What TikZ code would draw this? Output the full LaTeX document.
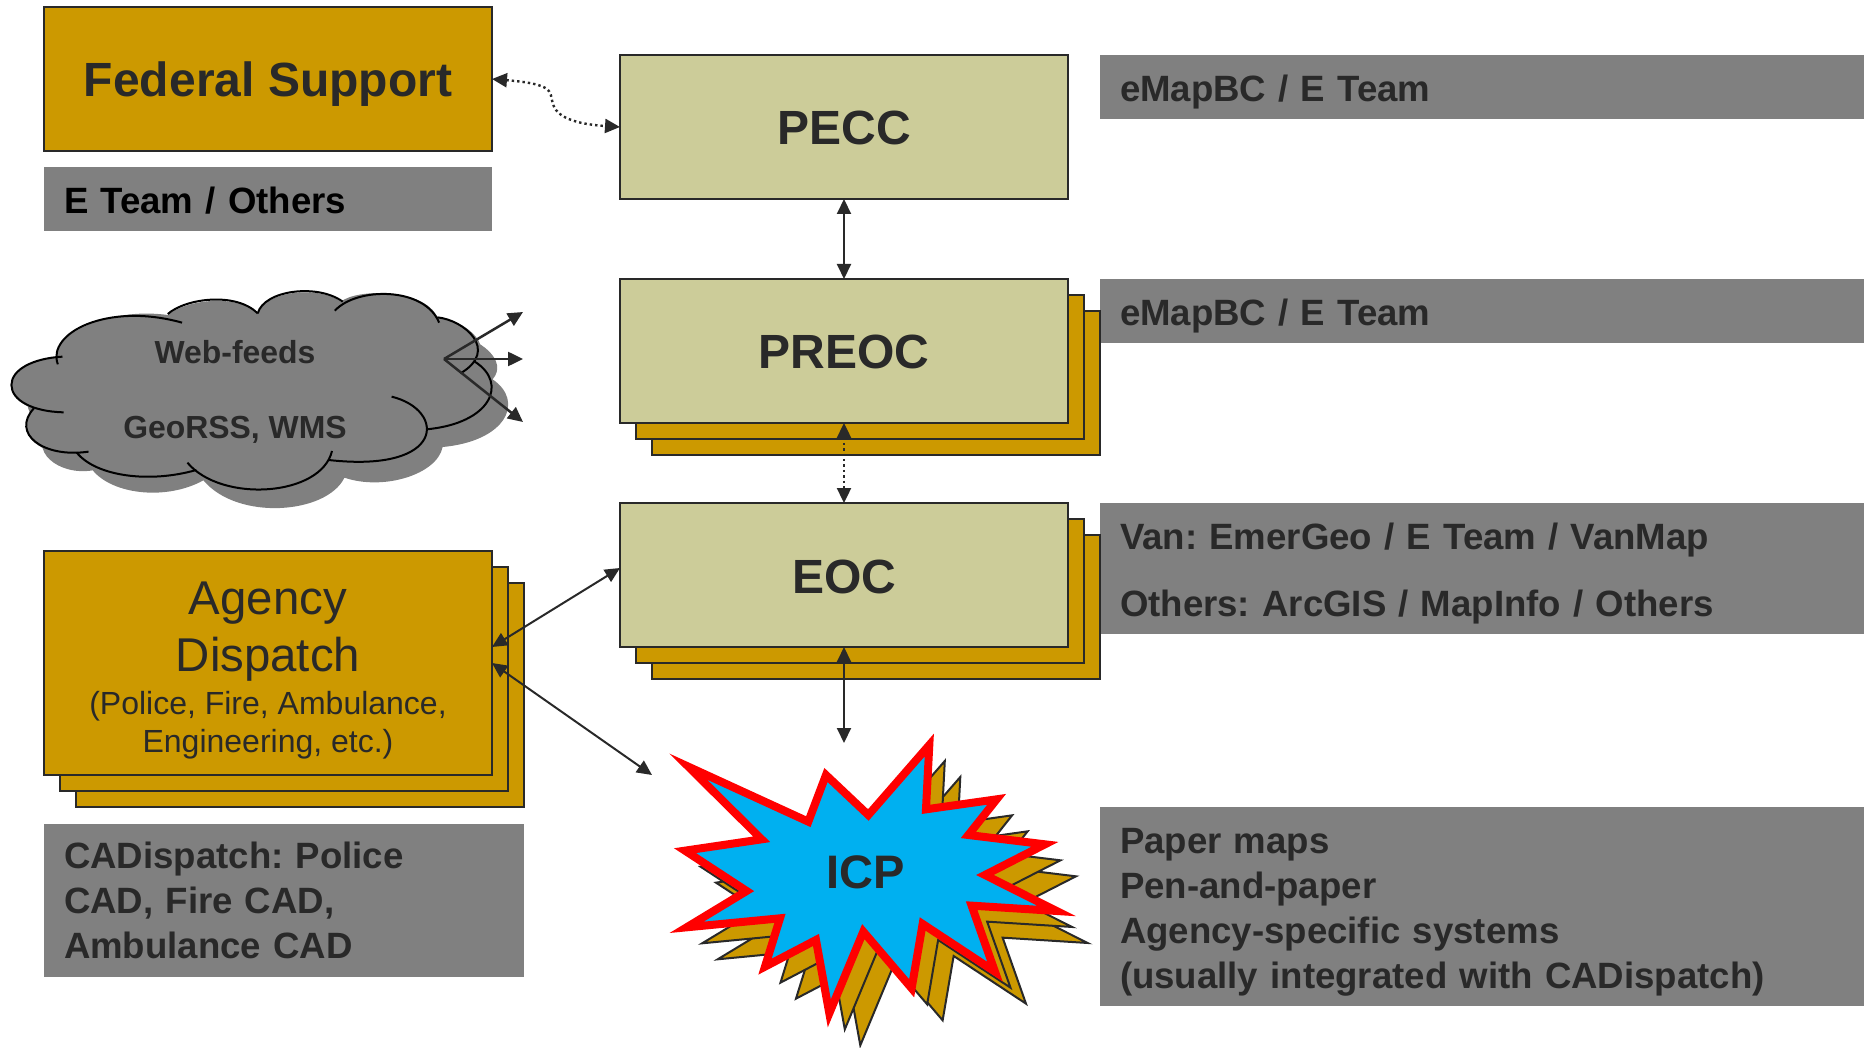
\documentclass[tikz,border=0pt]{standalone}
\usepackage{fontspec}
\setmainfont{Liberation Sans}
\usetikzlibrary{arrows.meta}
\frenchspacing
\definecolor{gold}{HTML}{CC9900}
\definecolor{khaki}{HTML}{CCCC99}
\definecolor{ink}{HTML}{292929}
\definecolor{slab}{HTML}{808080}
\definecolor{sky}{HTML}{00B0F0}
\newcommand{\dn}{\rule{0pt}{36pt}}
\newcommand{\cloudpath}{(32,345) .. controls (32,300) and (90,265) .. (160,262)
 .. controls (140,200) and (300,110) .. (470,135)
 .. controls (520,90) and (660,70) .. (722,130)
 .. controls (740,65) and (890,45) .. (955,95)
 .. controls (1000,55) and (1190,55) .. (1225,142)
 .. controls (1300,150) and (1380,220) .. (1335,275)
 .. controls (1425,340) and (1375,460) .. (1195,478)
 .. controls (1180,560) and (1030,610) .. (920,570)
 .. controls (870,680) and (620,700) .. (525,578)
 .. controls (420,640) and (270,620) .. (215,548)
 .. controls (120,565) and (30,490) .. (95,415)
 .. controls (50,400) and (32,375) .. (32,345) -- cycle}
\newcommand{\burstpath}{(145,140) -- (505,305) -- (558,165) -- (685,285) -- (868,75) -- (858,268) -- (1070,238) -- (985,345) -- (1215,373) -- (1035,465) -- (1250,573) -- (995,557) -- (1065,755) -- (848,612) -- (815,805) -- (670,635) -- (568,880) -- (528,660) -- (375,740) -- (420,595) -- (140,622) -- (320,513) -- (135,392) -- (365,358) -- cycle}
\tikzset{
 x=1pt,y=-1pt,
 >={Triangle[length=15pt,width=14pt]},
 box/.style={draw=ink,line width=2pt,minimum width=448pt,minimum height=144pt,inner sep=0pt,outer sep=0pt,text=ink,font=\fontsize{48}{57}\selectfont\bfseries},
 goldbox/.style={box,fill=gold},
 tan/.style={box,fill=khaki,text height=36pt,text depth=0pt},
 slabel/.style={fill=slab,inner sep=0pt,outer sep=0pt,inner xsep=20pt,align=left,anchor=north west,text=ink,font=\fontsize{36.6}{45}\selectfont\bfseries},
 link/.style={draw=ink,line width=2pt,<->},
 dots/.style={link,line width=2.4pt,dash pattern=on 2.4pt off 3pt},
 burstback/.style={fill=gold,draw=ink,line width=2pt,miter limit=10},
 cloudtext/.style={text=ink,font=\fontsize{31.9}{38}\selectfont\bfseries},
 ray/.style={draw=ink,line width=2.5pt,->},
}
\begin{document}
\begin{tikzpicture}
\useasboundingbox (0,0) rectangle (1864,1048);
% gray labels
\node[slabel,text width=408pt,minimum height=64pt,text=black] (lfed) at (44,167) {\rule{0pt}{29pt}E Team / Others};
\node[slabel,text width=724pt,minimum height=64pt] (lpecc) at (1100,55) {\dn eMapBC / E Team};
\node[slabel,text width=724pt,minimum height=64pt] (lpreoc) at (1100,279) {\dn eMapBC / E Team};
\node[slabel,text width=724pt,minimum height=131pt,font=\fontsize{36.6}{67}\selectfont\bfseries] (leoc) at (1100,503) {\dn Van: EmerGeo / E Team / VanMap\\Others: ArcGIS / MapInfo / Others};
\node[slabel,text width=724pt,minimum height=199pt] (licp) at (1100,807) {\dn Paper maps\\Pen-and-paper\\Agency-specific systems\\(usually integrated with CADispatch)};
\node[slabel,text width=440pt,minimum height=153pt] (lagency) at (44,824) {CADispatch: Police\\CAD, Fire CAD,\\Ambulance CAD};
% main boxes
\node[goldbox,text depth=0pt] (federal) at (268,79) {Federal Support};
\node[tan] (pecc) at (844,127) {PECC};
\node[goldbox] (preoc3) at (876,383) {};
\node[goldbox] (preoc2) at (860,367) {};
\node[tan] (preoc) at (844,351) {PREOC};
\node[goldbox] (eoc3) at (876,607) {};
\node[goldbox] (eoc2) at (860,591) {};
\node[tan] (eoc) at (844,575) {EOC};
\node[goldbox,minimum height=224pt] (ag3) at (300,695) {};
\node[goldbox,minimum height=224pt] (ag2) at (284,679) {};
\node[goldbox,minimum height=224pt,font=\fontsize{47.4}{57}\selectfont,align=center] (agency) at (268,663) {\rule{0pt}{48pt}Agency\\Dispatch\\[-14pt]\fontsize{32}{38}\selectfont (Police, Fire, Ambulance,\\[-19pt]\fontsize{32}{38}\selectfont Engineering, etc.)};
% cloud
\begin{scope}[shift={(16pt,-287.7pt)},x=0.357pt,y=-0.3333pt]
 \fill[slab] \cloudpath;
\end{scope}
\begin{scope}[shift={(0pt,-270pt)},x=0.357pt,y=-0.3333pt]
 \fill[slab] \cloudpath;
 \begin{scope}[draw=black,line width=2pt]
 \draw (178,427) .. controls (90,425) and (32,390) .. (32,345) .. controls (32,300) and (90,265) .. (175,260);
 \draw (162,283) .. controls (130,190) and (300,95) .. (510,158);
 \draw (470,132) .. controls (520,85) and (660,65) .. (722,130);
 \draw (722,130) .. controls (740,60) and (890,40) .. (960,95);
 \draw (938,122) .. controls (1000,50) and (1190,50) .. (1230,158);
 \draw (1225,142) .. controls (1300,150) and (1400,240) .. (1290,310);
 \draw (1330,275) .. controls (1425,340) and (1375,460) .. (1195,478);
 \draw (1097,380) .. controls (1250,420) and (1250,610) .. (920,570);
 \draw (930,543) .. controls (900,680) and (620,700) .. (525,578);
 \draw (550,600) .. controls (420,640) and (270,620) .. (215,548);
 \draw (248,545) .. controls (120,565) and (30,490) .. (95,415);
 \end{scope}
\end{scope}
\node[cloudtext] (web) at (235,352) {Web-feeds};
\node[cloudtext] (geo) at (235,430) {GeoRSS, WMS};
\coordinate (co) at (444,359);
\coordinate (c1) at (523,312);
\coordinate (c2) at (523,359);
\coordinate (c3) at (523,422);
\draw[ray] (co) -- (c1);
\draw[ray] (co) -- (c2);
\draw[ray] (co) -- (c3);
% burst
\begin{scope}[shift={(671pt,-752pt)},x=0.3333pt,y=-0.3333pt]
 \filldraw[burstback] \burstpath;
\end{scope}
\begin{scope}[shift={(655.5pt,-736pt)},x=0.3333pt,y=-0.3333pt]
 \filldraw[burstback] \burstpath;
\end{scope}
\begin{scope}[shift={(640pt,-720pt)},x=0.3333pt,y=-0.3333pt]
 \filldraw[fill=sky,draw=red,line width=8pt,miter limit=10] \burstpath;
\end{scope}
\node[text=ink,font=\fontsize{47}{57}\selectfont\bfseries] (icp) at (866,872) {ICP};
% connectors
\coordinate (icptop) at (844,743);
\coordinate (icpleft) at (652,775);
\coordinate (agup) at (492,647);
\coordinate (eocin) at (620,568);
\draw[dots] (federal.east) .. controls (565,85) and (545,95) .. (556,110) .. controls (565,122) and (590,125) .. (pecc.west);
\draw[link] (pecc.south) -- (preoc.north);
\draw[dots] (preoc.south) -- (eoc.north);
\draw[link] (eoc.south) -- (icptop);
\draw[link] (agup) -- (eocin);
\draw[link] (agency.east) -- (icpleft);
\end{tikzpicture}
\end{document}
